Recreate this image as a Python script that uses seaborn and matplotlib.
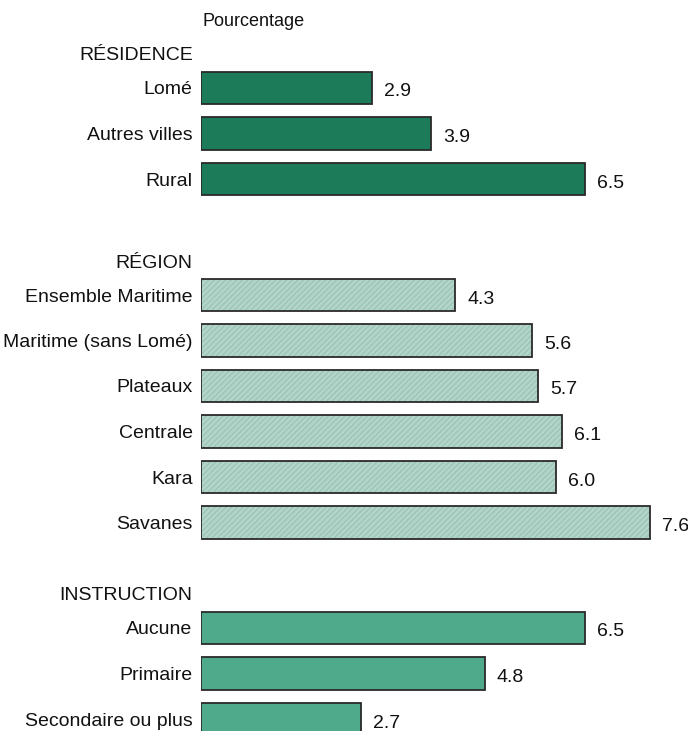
import numpy as np
import pandas as pd
import matplotlib
matplotlib.use("Agg")
import matplotlib.pyplot as plt
import seaborn as sns

# Data: percentage by group
residence_labels = ["Lomé", "Autres villes", "Rural"]
residence_values = [2.9, 3.9, 6.5]

region_labels = ["Ensemble Maritime", "Maritime (sans Lomé)", "Plateaux",
                 "Centrale", "Kara", "Savanes"]
region_values = [4.3, 5.6, 5.7, 6.1, 6.0, 7.6]

instruction_labels = ["Aucune", "Primaire", "Secondaire ou plus"]
instruction_values = [6.5, 4.8, 2.7]

group_titles = ["RÉSIDENCE", "RÉGION", "INSTRUCTION"]

# Layout (vertical positions in figure pixel units, top = 0)
FIG_W, FIG_H = 688, 731
row_step = 45.5
group_starts = [88, 295, 628]
header_offset = 34

sns.set_theme(style="white")
plt.rcParams["font.family"] = ["Liberation Sans", "DejaVu Sans"]

groups = [
    (residence_labels, residence_values),
    (region_labels, region_values),
    (instruction_labels, instruction_values),
]

frames = []
for g, (labs, vals) in enumerate(groups):
    pos = group_starts[g] + row_step * np.arange(len(labs))
    frames.append(pd.DataFrame({"label": labs, "value": vals, "pos": pos, "group": g}))
df = pd.concat(frames, ignore_index=True)

fig = plt.figure(figsize=(FIG_W / 100, FIG_H / 100), dpi=100)
left_px = 201
px_per_unit = 59.1
ax = fig.add_axes([left_px / FIG_W, 0, (FIG_W - left_px) / FIG_W, 1])
xmax = (FIG_W - left_px) / px_per_unit

edge = "#2a2a2a"
res_color = "#1c7b58"
reg_color = "#b3d5c9"
reg_hatch = "#98c2b4"
ins_color = "#4fa98b"

common = dict(x="value", y="pos", orient="h", native_scale=True, width=0.72,
              errorbar=None, ax=ax)

plt.rcParams["hatch.linewidth"] = 0.8

d0 = df[df.group == 0]
d1 = df[df.group == 1]
d2 = df[df.group == 2]

sns.barplot(data=d0, color=res_color, saturation=1, edgecolor=edge, linewidth=1.3, **common)
# hatched fill for region bars, outlined in a second pass
n_before = len(ax.patches)
sns.barplot(data=d1, color=reg_color, saturation=1, edgecolor=reg_hatch, linewidth=0, **common)
for p in ax.patches[n_before:]:
    p.set_hatch("//////")
sns.barplot(data=d1, color=edge, fill=False, linewidth=1.3, **common)
sns.barplot(data=d2, color=ins_color, saturation=1, edgecolor=edge, linewidth=1.3, **common)

# value labels
for _, r in df.iterrows():
    ax.text(r.value + 12 / px_per_unit, r.pos + 4, f"{r.value:.1f}",
            ha="left", va="center", fontsize=14, color="#111111")

# category labels and group headers as ticks
tick_pos = list(df.pos)
tick_lab = list(df.label)
for g, title in enumerate(group_titles):
    tick_pos.append(group_starts[g] - header_offset)
    tick_lab.append(title)
ax.set_yticks(tick_pos)
ax.set_yticklabels(tick_lab, fontsize=14, color="#111111")
ax.tick_params(axis="y", length=0, pad=6)
ax.set_ylabel("")
ax.set_xlabel("")
ax.set_xticks([])

ax.text(0.03, 22, "Pourcentage", ha="left", va="center", fontsize=13, color="#111111")

ax.set_xlim(0, xmax)
ax.set_ylim(FIG_H, 0)
for s in ax.spines.values():
    s.set_visible(False)

fig.savefig("out.png", dpi=100)
